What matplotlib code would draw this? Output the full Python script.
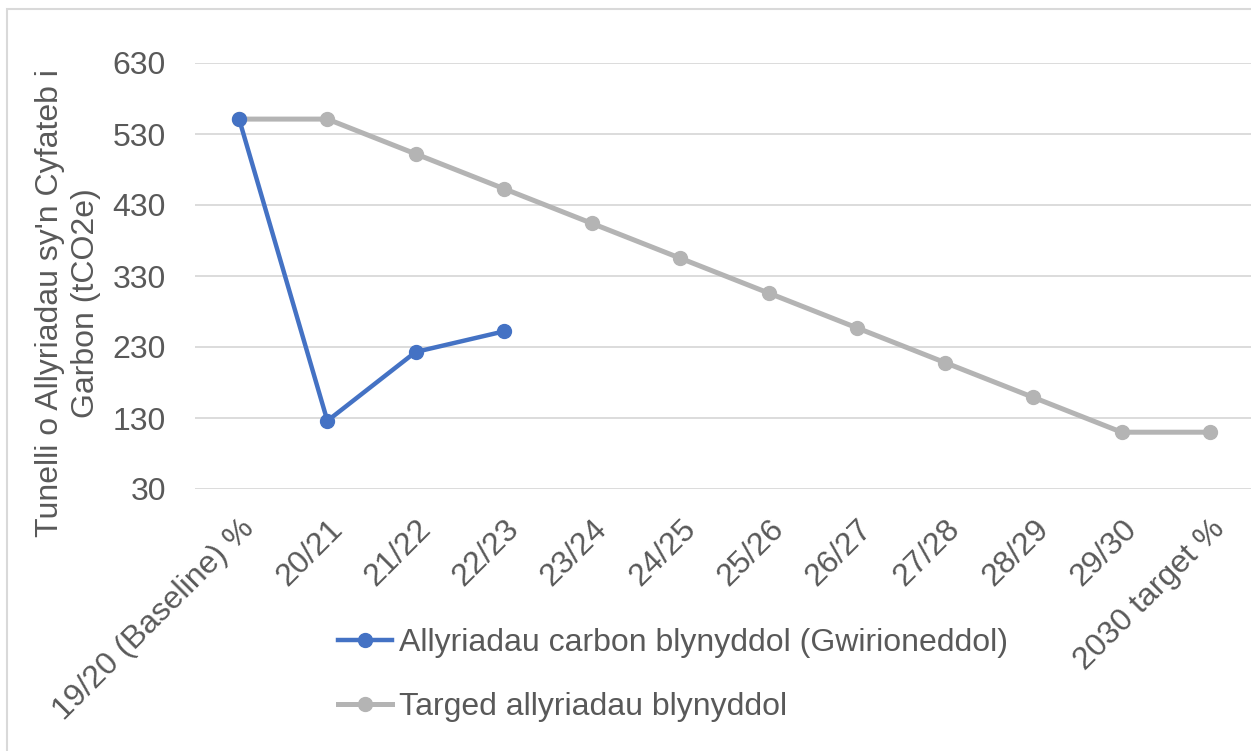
import matplotlib
matplotlib.use('Agg')
import matplotlib.pyplot as plt
import matplotlib.patches as mpatches

plt.rcParams['font.family'] = ['Liberation Sans', 'DejaVu Sans']

# categories and series values
years = ['19/20 (Baseline) %', '20/21', '21/22', '22/23', '23/24', '24/25',
         '25/26', '26/27', '27/28', '28/29', '29/30', '2030 target %']
actual = [551, 126, 223, 252]
target = [551, 551, 502, 453, 404, 355, 306, 257, 208, 159, 110, 110]
yticks = [30, 130, 230, 330, 430, 530, 630]

label_actual = 'Allyriadau carbon blynyddol (Gwirioneddol)'
label_target = 'Targed allyriadau blynyddol'
ylabel = "Tunelli o Allyriadau sy'n Cyfateb i\nGarbon (tCO2e)"

TEXT = '#595959'
BLUE = '#4472C4'
GREY = '#B4B4B4'
FS = 23

fig = plt.figure(figsize=(12.51, 7.51), dpi=100)
W, H = 1251, 751
ax = fig.add_axes([195 / W, 1 - 489 / H, 1059 / W, 426 / H])

# chart border (light grey frame)
fig.patches.append(mpatches.Rectangle((7 / W, -0.1), 1.2, 1 - 9 / H + 0.1,
                                      transform=fig.transFigure, fill=False,
                                      edgecolor='#D9D9D9', linewidth=1.5))

x = list(range(len(years)))
ax.plot(x, target, color=GREY, linewidth=3.6, marker='o', markersize=10,
        label=label_target, zorder=3)
ax.plot(x[:len(actual)], actual, color=BLUE, linewidth=3.2, marker='o',
        markersize=10, label=label_actual, zorder=4)

ax.set_xlim(-0.5, len(years) - 0.5)
ax.set_ylim(30, 630)
ax.set_yticks(yticks)
ax.yaxis.grid(True, color='#D9D9D9', linewidth=1.3)
ax.set_axisbelow(True)
for s in ax.spines.values():
    s.set_visible(False)
ax.tick_params(axis='both', length=0, labelsize=FS, labelcolor=TEXT)
ax.tick_params(axis='y', pad=21)
ax.set_xticks(x)
ax.set_xticklabels(years, rotation=45, ha='right', rotation_mode='anchor')
ax.tick_params(axis='x', pad=18)

fig.text(68 / W, 1 - 303 / H, ylabel, rotation=90, ha='center', va='center',
         multialignment='center', fontsize=FS, color=TEXT, linespacing=1.3)

h, l = ax.get_legend_handles_labels()
fig.legend(h[::-1], l[::-1], loc='center left', bbox_to_anchor=(338 / W, 1 - 675 / H),
           frameon=False, fontsize=FS, labelcolor=TEXT, handlelength=1.7,
           handletextpad=0.2, labelspacing=1.05, borderpad=0, borderaxespad=0)

fig.savefig('out.png', dpi=100)
